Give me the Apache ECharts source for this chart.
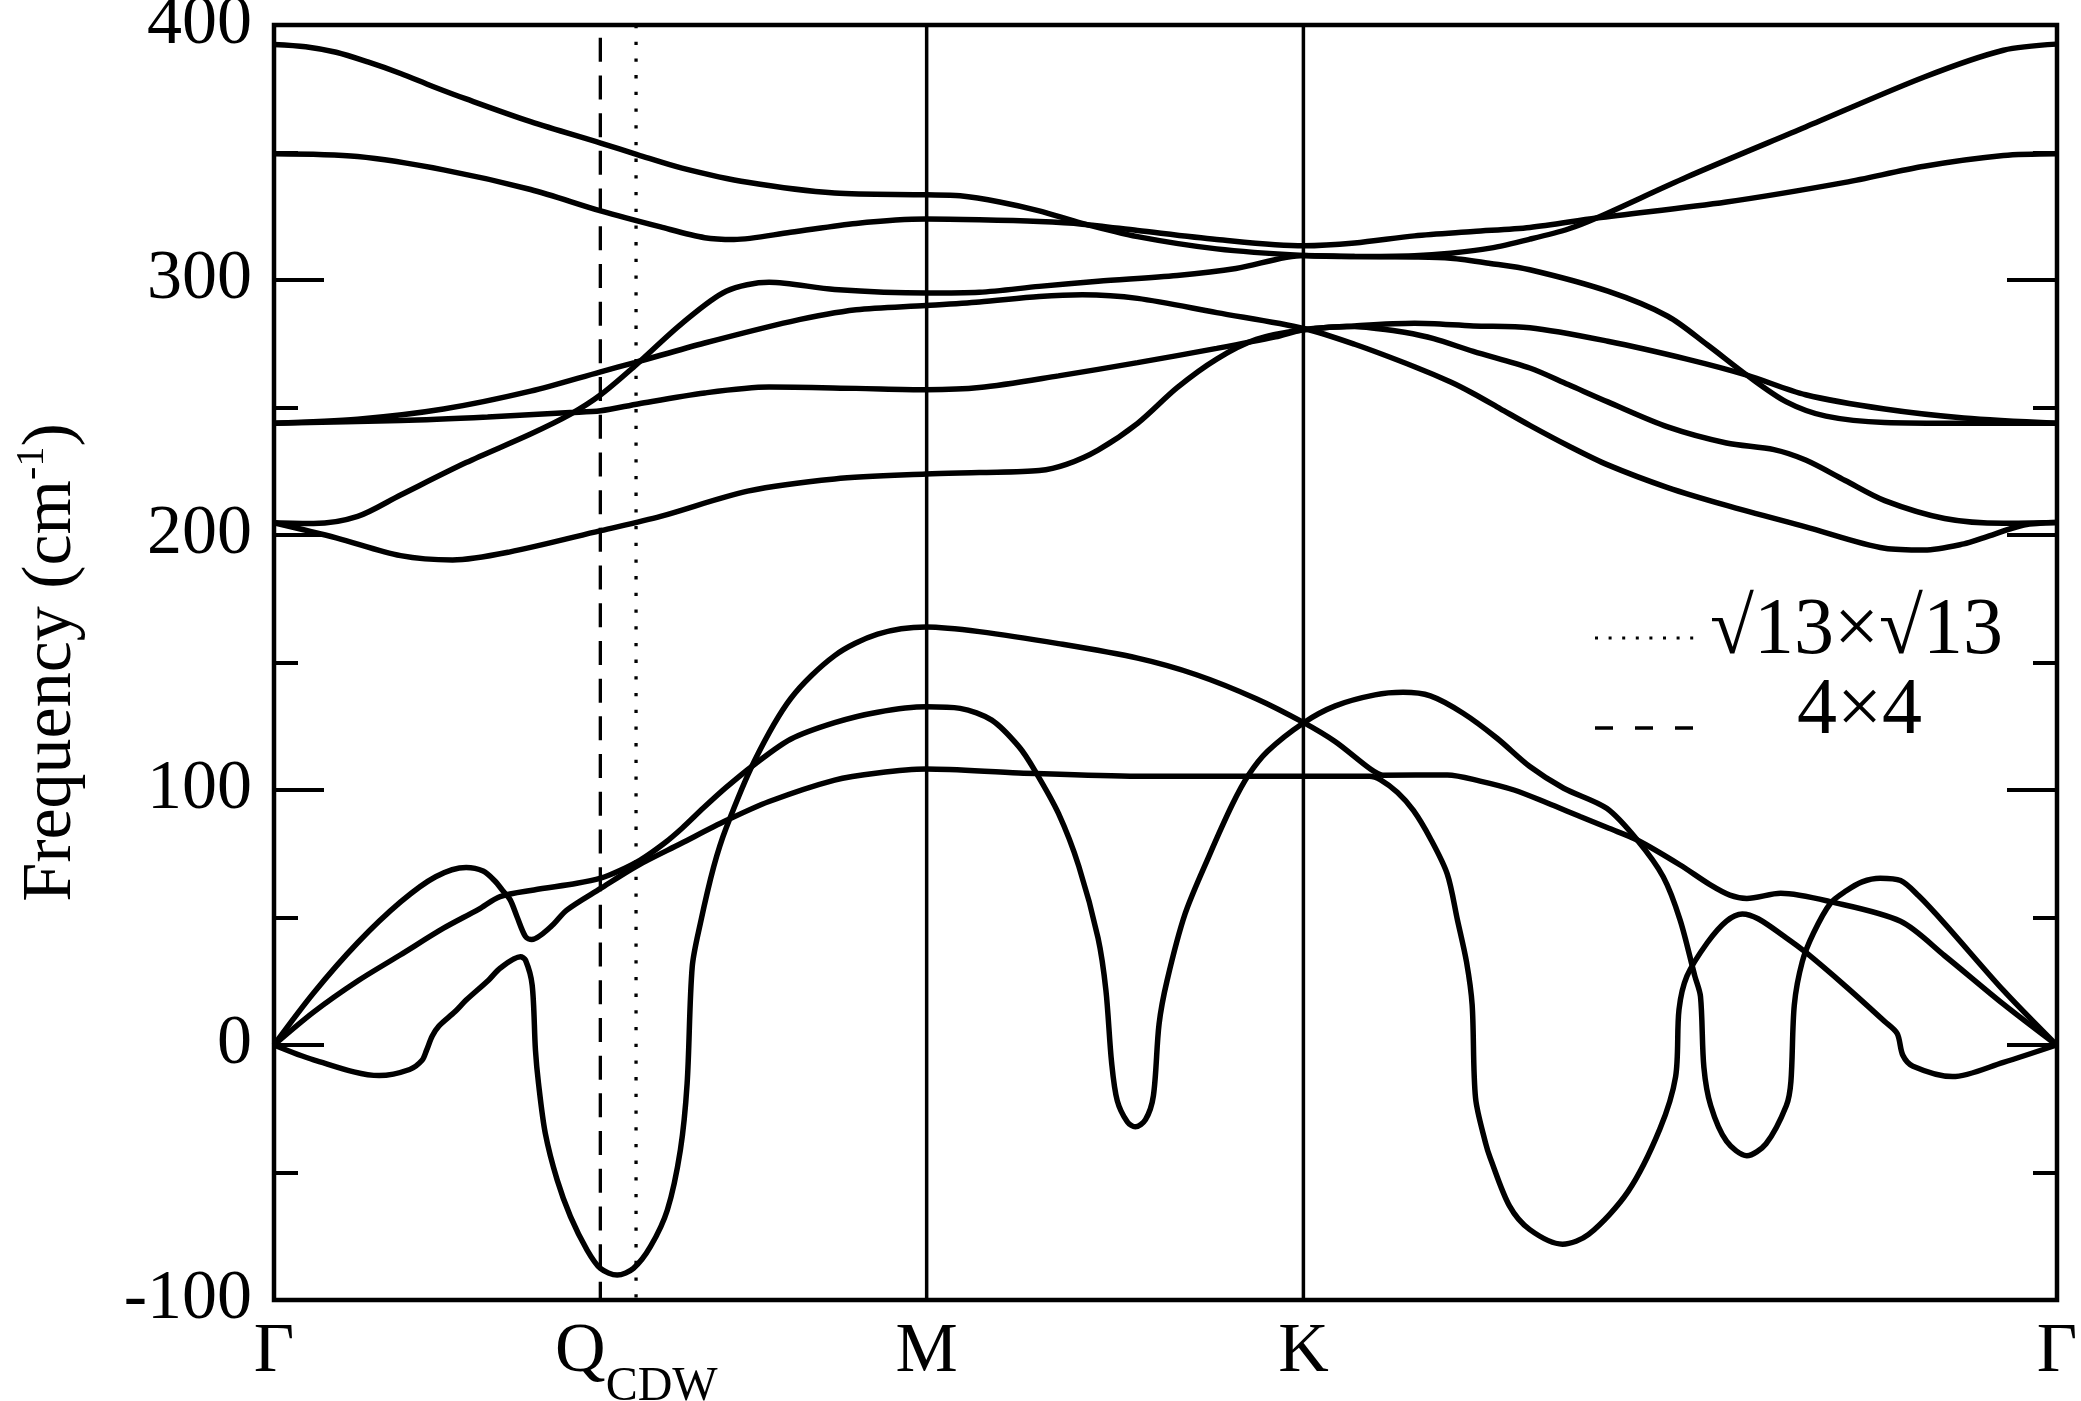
<!DOCTYPE html>
<html>
<head>
<meta charset="utf-8">
<script src="https://cdn.jsdelivr.net/npm/echarts@6/dist/echarts.min.js"></script>
<style>
  html, body { margin: 0; padding: 0; background: #fff; }
  #chart { width: 2081px; height: 1401px; }
</style>
</head>
<body>
<div id="chart"></div>
<script>
// path coordinate k (units of 2pi/a) along G-M-K-G
var kSym = [0, 0.5774, 0.9107, 1.5774];
var kSymNames = ['Γ', 'M', 'K', 'Γ'];
var qCdw4x4 = 0.2887;     // 4x4 ordering vector
var qCdw13 = 0.3203;      // sqrt13 x sqrt13 ordering vector
var qLabelAt = 0.3206;    // where the Q_CDW label sits
var freqMin = -100, freqMax = 400, freqStep = 100;

// phonon branches [k, frequency cm^-1]
var bandA = [[0,392.4],[0.028,391.5],[0.055,389.3],[0.083,385.5],[0.112,381.0],[0.140,376.0],[0.170,371.0],[0.227,362.1],[0.289,353.7],[0.322,349.1],[0.361,343.9],[0.419,338.3],[0.496,334.1],[0.577,333.4],[0.607,333.0],[0.642,330.6],[0.677,327.1],[0.715,322.2],[0.764,317.0],[0.834,312.2],[0.911,309.6],[0.956,309.2],[1.009,309.5],[1.041,310.5],[1.076,312.5],[1.111,316.0],[1.145,320.0],[1.170,324.3],[1.250,340.4],[1.355,360.0],[1.460,379.6],[1.530,390.1],[1.577,392.5]];
var bandB = [[0,349.5],[0.074,348.4],[0.150,343.2],[0.227,335.5],[0.289,327.1],[0.342,320.8],[0.381,316.6],[0.407,315.9],[0.457,318.7],[0.515,322.2],[0.577,323.9],[0.624,323.6],[0.677,322.9],[0.715,321.9],[0.764,319.4],[0.834,315.9],[0.911,313.4],[0.956,314.5],[1.009,317.3],[1.061,319.0],[1.111,320.6],[1.170,324.3],[1.285,330.6],[1.390,338.3],[1.460,344.6],[1.530,348.8],[1.577,349.5]];
var bandC = [[0,204.8],[0.035,204.5],[0.074,207.3],[0.112,215.7],[0.170,228.4],[0.227,239.6],[0.262,247.3],[0.289,255.0],[0.319,266.2],[0.361,283.0],[0.400,295.6],[0.438,299.1],[0.496,296.3],[0.577,294.9],[0.624,295.2],[0.677,297.5],[0.729,299.5],[0.799,301.8],[0.851,304.5],[0.911,309.6],[0.956,309.2],[1.009,309.0],[1.041,308.5],[1.076,306.5],[1.111,304.0],[1.180,295.6],[1.233,285.8],[1.268,274.6],[1.303,262.7],[1.338,252.2],[1.373,246.6],[1.425,244.1],[1.495,243.8],[1.577,243.8]];
var bandD = [[0,204.8],[0.055,198.9],[0.112,191.9],[0.158,190.2],[0.208,193.3],[0.289,201.7],[0.342,207.3],[0.419,217.2],[0.496,222.0],[0.577,223.9],[0.624,224.5],[0.677,225.3],[0.701,227.7],[0.729,233.3],[0.764,243.8],[0.799,257.8],[0.834,269.0],[0.869,276.7],[0.911,280.5],[0.956,281.8],[0.975,281.0],[1.000,279.5],[1.026,277.0],[1.061,272.0],[1.111,265.5],[1.145,259.0],[1.180,252.2],[1.233,242.4],[1.285,236.1],[1.327,233.5],[1.355,229.4],[1.390,221.4],[1.425,213.5],[1.478,206.5],[1.530,204.6],[1.577,204.9]];
var bandE = [[0,243.8],[0.074,245.4],[0.150,249.4],[0.227,256.4],[0.289,264.0],[0.319,267.6],[0.381,275.3],[0.457,283.7],[0.515,288.3],[0.577,290.0],[0.624,291.4],[0.677,293.5],[0.715,294.2],[0.764,292.8],[0.834,287.2],[0.911,281.0],[0.956,274.8],[1.009,266.0],[1.041,260.0],[1.061,255.5],[1.085,249.5],[1.111,243.0],[1.145,235.0],[1.180,227.5],[1.233,218.6],[1.285,211.6],[1.355,203.2],[1.425,194.8],[1.460,194.1],[1.495,196.5],[1.513,199.0],[1.548,203.9],[1.577,204.9]];
var bandF = [[0,243.8],[0.112,244.9],[0.189,246.3],[0.262,248.0],[0.289,248.7],[0.323,251.5],[0.381,255.7],[0.438,258.0],[0.515,257.5],[0.577,257.0],[0.624,257.8],[0.694,262.4],[0.764,267.6],[0.834,273.2],[0.886,277.7],[0.911,280.5],[0.956,282.0],[1.009,283.0],[1.061,282.0],[1.111,281.3],[1.180,276.0],[1.250,269.0],[1.303,262.7],[1.355,255.0],[1.425,249.4],[1.495,245.9],[1.577,243.8]];
var bandG = [[0,0],[0.035,20.4],[0.074,40.1],[0.112,56.1],[0.143,66.0],[0.170,69.6],[0.185,68.2],[0.195,64.5],[0.203,60.2],[0.209,56.9],[0.215,50.3],[0.2225,42.5],[0.228,41.4],[0.245,46.4],[0.259,52.9],[0.289,61.4],[0.321,70.2],[0.360,79.0],[0.400,88.0],[0.438,95.5],[0.496,103.9],[0.534,106.7],[0.577,108.2],[0.659,106.7],[0.764,105.4],[0.911,105.4],[0.969,105.4],[0.979,104.0],[0.994,99.0],[1.008,92.0],[1.023,81.0],[1.038,67.0],[1.047,49.0],[1.055,32.6],[1.060,15.7],[1.063,-20.8],[1.072,-38.7],[1.076,-44.3],[1.093,-63.1],[1.111,-72.4],[1.140,-78.1],[1.163,-74.3],[1.198,-57.4],[1.226,-33.0],[1.240,-12.4],[1.243,13.9],[1.250,27.0],[1.268,40.1],[1.285,48.6],[1.299,51.4],[1.313,49.5],[1.338,42.0],[1.355,36.4],[1.390,23.2],[1.425,9.2],[1.436,4.5],[1.441,-4.0],[1.450,-8.3],[1.485,-12.4],[1.530,-6.8],[1.577,0]];
var bandH = [[0,0],[0.035,12.9],[0.074,25.1],[0.112,35.4],[0.150,45.8],[0.181,53.2],[0.200,58.2],[0.230,60.8],[0.268,63.4],[0.289,65.4],[0.304,68.0],[0.324,72.5],[0.345,79.0],[0.361,85.0],[0.380,93.0],[0.400,101.0],[0.425,110.0],[0.457,119.9],[0.496,126.4],[0.534,130.5],[0.577,132.6],[0.607,132.0],[0.635,127.4],[0.659,117.0],[0.673,107.7],[0.694,90.8],[0.712,70.1],[0.729,42.0],[0.736,21.4],[0.741,-6.8],[0.746,-21.8],[0.755,-30.2],[0.762,-32.1],[0.771,-29.3],[0.778,-19.9],[0.783,8.2],[0.790,25.1],[0.806,51.4],[0.827,73.9],[0.848,94.5],[0.862,105.8],[0.879,115.2],[0.911,126.4],[0.939,133.0],[0.974,137.3],[0.999,138.3],[1.023,136.9],[1.052,130.1],[1.082,120.3],[1.111,109.2],[1.141,100.7],[1.179,92.8],[1.206,80.4],[1.229,66.0],[1.244,49.0],[1.257,27.0],[1.262,19.0],[1.265,-8.7],[1.271,-23.7],[1.285,-37.7],[1.303,-43.4],[1.320,-38.7],[1.338,-23.7],[1.342,-14.3],[1.345,15.7],[1.352,32.6],[1.362,43.9],[1.377,55.6],[1.391,60.5],[1.405,64.0],[1.421,65.4],[1.439,64.5],[1.455,58.5],[1.478,47.6],[1.530,21.4],[1.577,0]];
var bandI = [[0,0],[0.035,-5.8],[0.093,-12.0],[0.120,-9.6],[0.131,-6.0],[0.135,-2.0],[0.140,3.5],[0.146,7.5],[0.160,13.0],[0.170,17.6],[0.190,25.5],[0.200,30.1],[0.218,34.6],[0.2225,33.3],[0.2284,23.5],[0.2313,-2.0],[0.234,-15.0],[0.240,-34.6],[0.2505,-52.9],[0.2623,-67.3],[0.277,-80.4],[0.2888,-87.6],[0.3036,-90.2],[0.318,-87.6],[0.333,-79.1],[0.348,-64.7],[0.3595,-41.2],[0.3655,-15.0],[0.370,30.7],[0.3772,47.7],[0.389,69.9],[0.400,85.1],[0.425,111.4],[0.457,135.8],[0.496,152.7],[0.534,161.1],[0.577,163.9],[0.624,162.1],[0.694,157.4],[0.764,151.7],[0.816,145.2],[0.869,135.8],[0.911,126.4],[0.939,118.9],[0.970,108.2],[0.981,105.8],[1.038,105.9],[1.067,103.5],[1.097,100.0],[1.126,95.0],[1.156,89.5],[1.181,85.0],[1.206,80.4],[1.244,70.6],[1.270,63.0],[1.288,58.8],[1.303,57.5],[1.333,59.5],[1.377,56.2],[1.439,48.5],[1.478,35.0],[1.530,16.0],[1.577,0]];

var bands = [bandA, bandB, bandC, bandD, bandE, bandF, bandG, bandH, bandI];

var FONT = 'Liberation Serif';
var chart = echarts.init(document.getElementById('chart'));

var series = bands.map(function (b, i) {
  return {
    name: 'band' + i, type: 'line', data: b,
    symbol: 'none', smooth: 0.3, silent: true, z: 3,
    lineStyle: { color: '#000', width: 5.5 }
  };
});

// M and K separators
[kSym[1], kSym[2]].forEach(function (k) {
  series.push({
    type: 'line', data: [[k, freqMin], [k, freqMax]], symbol: 'none', silent: true, z: 2,
    lineStyle: { color: '#000', width: 3.5 }
  });
});
// CDW wave vectors
series.push({
  type: 'line', data: [[qCdw4x4, 395], [qCdw4x4, freqMin]], symbol: 'none', silent: true, z: 2,
  lineStyle: { color: '#000', width: 3.3, type: [24, 13.7] }
});
series.push({
  type: 'line', data: [[qCdw13, freqMax], [qCdw13, freqMin]], symbol: 'none', silent: true, z: 2,
  lineStyle: { color: '#000', width: 3.3, type: [3.3, 13.4] }
});

var xLabelVals = [kSym[0], qLabelAt, kSym[1], kSym[2], kSym[3]];
var xLabelText = ['{n|Γ}', '{n|Q}{sub|CDW}', '{n|M}', '{n|K}', '{n|Γ}'];

chart.setOption({
  animation: false,
  backgroundColor: '#fff',
  textStyle: { fontFamily: FONT, color: '#000' },
  grid: { left: 274, right: 24, top: 25, bottom: 101, show: true, containLabel: false,
          outerBoundsMode: 'none',
          borderColor: '#000', borderWidth: 4.5, backgroundColor: 'transparent' },
  xAxis: {
    type: 'value', min: kSym[0], max: kSym[3],
    axisLine: { show: false }, axisTick: { show: false }, splitLine: { show: false },
    axisLabel: {
      customValues: xLabelVals,
      margin: 18,
      fontFamily: FONT, fontSize: 70, color: '#000',
      formatter: function (v) {
        var best = 0;
        for (var i = 1; i < xLabelVals.length; i++) {
          if (Math.abs(xLabelVals[i] - v) < Math.abs(xLabelVals[best] - v)) best = i;
        }
        return xLabelText[best];
      },
      rich: {
        n: { fontFamily: FONT, fontSize: 70, color: '#000', verticalAlign: 'top' },
        sub: { fontFamily: FONT, fontSize: 48, color: '#000', verticalAlign: 'top', padding: [45, 0, 0, 0] }
      }
    }
  },
  yAxis: [{
    type: 'value', min: freqMin, max: freqMax, interval: freqStep, position: 'left',
    axisLine: { show: false }, splitLine: { show: false },
    axisTick: { show: true, inside: true, length: 50, lineStyle: { color: '#000', width: 4 } },
    minorTick: { show: true, splitNumber: 2, length: 24, lineStyle: { color: '#000', width: 4 } },
    axisLabel: { color: '#000', fontFamily: FONT, fontSize: 70, margin: 22, padding: [6, 0, 0, 0] },
    name: '{a|Frequency (cm}{s|-1}{a|)}',
    nameLocation: 'middle', nameRotate: 90, nameGap: 182,
    nameTextStyle: {
      fontFamily: FONT, fontSize: 70, color: '#000',
      rich: {
        a: { fontFamily: FONT, fontSize: 70, color: '#000', lineHeight: 80 },
        s: { fontFamily: FONT, fontSize: 40, color: '#000', lineHeight: 40, verticalAlign: 'top' }
      }
    }
  }, {
    type: 'value', min: freqMin, max: freqMax, interval: freqStep, position: 'right',
    axisLine: { show: false }, splitLine: { show: false }, axisLabel: { show: false },
    axisTick: { show: true, inside: true, length: 50, lineStyle: { color: '#000', width: 4 } },
    minorTick: { show: true, splitNumber: 2, length: 24, lineStyle: { color: '#000', width: 4 } }
  }],
  series: series,
  graphic: [
    { type: 'line', shape: { x1: 1595, y1: 638, x2: 1694, y2: 638 },
      style: { stroke: '#000', lineWidth: 3, lineDash: [3, 10.6] } },
    { type: 'line', shape: { x1: 1595, y1: 728, x2: 1695, y2: 728 },
      style: { stroke: '#000', lineWidth: 3.3, lineDash: [18, 22] } },
    { type: 'text', x: 1710, y: 632,
      style: { text: '√13×√13', fontFamily: FONT, fontSize: 80, fill: '#000', verticalAlign: 'middle', textVerticalAlign: 'middle' } },
    { type: 'text', x: 1797, y: 712,
      style: { text: '4×4', fontFamily: FONT, fontSize: 80, fill: '#000', verticalAlign: 'middle', textVerticalAlign: 'middle' } }
  ]
});
</script>
</body>
</html>
